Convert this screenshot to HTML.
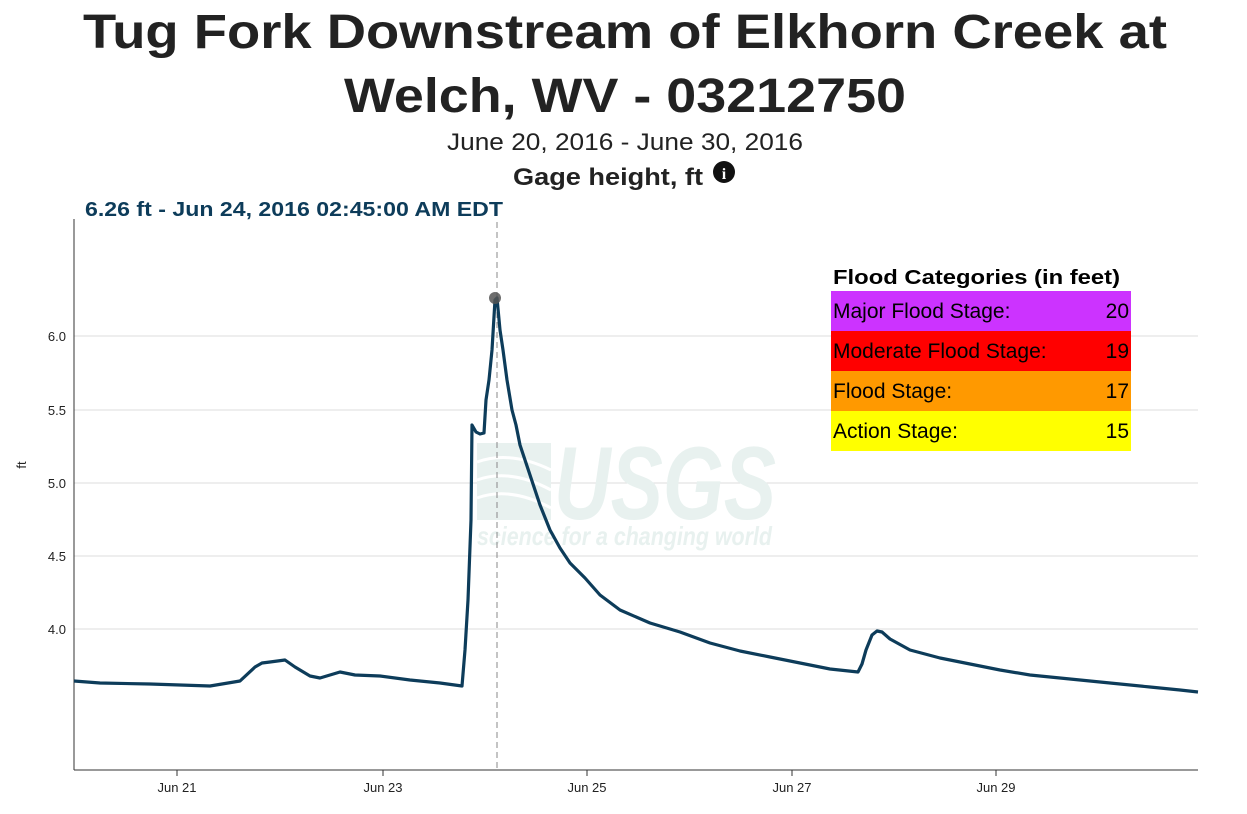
<!DOCTYPE html>
<html><head><meta charset="utf-8"><style>
body{margin:0;background:#fff;width:1247px;height:809px;overflow:hidden;font-family:"Liberation Sans",sans-serif;}
</style></head><body>
<svg width="1247" height="809" xmlns="http://www.w3.org/2000/svg" font-family="Liberation Sans, sans-serif">
<text x="625" y="48" text-anchor="middle" font-size="48" font-weight="bold" fill="#222" textLength="1084" lengthAdjust="spacingAndGlyphs">Tug Fork Downstream of Elkhorn Creek at</text>
<text x="625" y="112" text-anchor="middle" font-size="48" font-weight="bold" fill="#222" textLength="562" lengthAdjust="spacingAndGlyphs">Welch, WV - 03212750</text>
<text x="625" y="150" text-anchor="middle" font-size="24" fill="#222" textLength="356" lengthAdjust="spacingAndGlyphs">June 20, 2016 - June 30, 2016</text>
<text x="608" y="185" text-anchor="middle" font-size="24" font-weight="bold" fill="#222" textLength="190" lengthAdjust="spacingAndGlyphs">Gage height, ft</text>
<circle cx="724" cy="172" r="11" fill="#111"/>
<text x="724" y="179" text-anchor="middle" font-size="16" font-weight="bold" fill="#fff" font-family="Liberation Serif, serif">i</text>
<text x="85" y="216" font-size="20" font-weight="bold" fill="#0d3c5a" textLength="418" lengthAdjust="spacingAndGlyphs">6.26 ft - Jun 24, 2016 02:45:00 AM EDT</text>
<g stroke="#ddd" stroke-width="1">
<line x1="74" y1="336" x2="1198" y2="336"/><line x1="74" y1="410" x2="1198" y2="410"/>
<line x1="74" y1="483" x2="1198" y2="483"/><line x1="74" y1="556" x2="1198" y2="556"/>
<line x1="74" y1="629" x2="1198" y2="629"/>
</g>
<g fill="#e8f1ef">
<rect x="477" y="443" width="74" height="77"/>
<text x="554" y="519" font-size="104" font-weight="bold" font-style="italic" textLength="222" lengthAdjust="spacingAndGlyphs">USGS</text>
<text x="477" y="545" font-size="26" font-weight="bold" font-style="italic" textLength="295" lengthAdjust="spacingAndGlyphs">science for a changing world</text>
</g>
<g fill="none" stroke="#fff" stroke-width="3"><path d="M477 462 Q510 450 551 470"/><path d="M477 480 Q510 468 551 490"/><path d="M477 498 Q510 486 551 508"/></g>
<line x1="74" y1="219" x2="74" y2="770" stroke="#333"/>
<line x1="74" y1="770" x2="1198" y2="770" stroke="#333"/>
<g font-size="13" fill="#222" text-anchor="end">
<text x="66" y="341">6.0</text><text x="66" y="415">5.5</text><text x="66" y="488">5.0</text><text x="66" y="561">4.5</text><text x="66" y="634">4.0</text>
</g>
<text x="26" y="465" font-size="13" fill="#222" text-anchor="middle" transform="rotate(-90 26 465)">ft</text>
<g stroke="#333"><line x1="177" y1="770" x2="177" y2="776"/><line x1="383" y1="770" x2="383" y2="776"/><line x1="587" y1="770" x2="587" y2="776"/><line x1="792" y1="770" x2="792" y2="776"/><line x1="996" y1="770" x2="996" y2="776"/></g>
<g font-size="13" fill="#222" text-anchor="middle">
<text x="177" y="792">Jun 21</text><text x="383" y="792">Jun 23</text><text x="587" y="792">Jun 25</text><text x="792" y="792">Jun 27</text><text x="996" y="792">Jun 29</text>
</g>
<line x1="497" y1="222" x2="497" y2="770" stroke="#888" stroke-dasharray="6,4"/>
<polyline fill="none" stroke="#0d3c5a" stroke-width="3.2" stroke-linejoin="round" points="74,681 100,683 150,684 210,686 240,681 255,667 262,663 270,662 285,660 295,667 310,676 320,678 340,672 355,675 380,676 410,680 440,683 462,686 465,650 468,600 471,520 472,425 476,432 480,434 484,433 486,400 489,380 492,350 495,300 497,298 500,330 503,350 507,380 512,410 516,425 520,445 525,460 530,475 540,505 550,530 560,548 570,563 585,578 600,595 620,610 650,623 680,632 710,643 740,651 770,657 800,663 830,669 858,672 862,664 866,650 872,635 877,631 882,632 890,639 910,650 940,658 970,664 1000,670 1030,675 1070,679 1110,683 1150,687 1180,690 1198,692"/>
<circle cx="495" cy="298" r="6" fill="#555" opacity="0.85"/>
<text x="833" y="284" font-size="20" font-weight="bold" fill="#000" textLength="287" lengthAdjust="spacingAndGlyphs">Flood Categories (in feet)</text>
<rect x="831" y="291" width="300" height="40" fill="#cc33ff"/>
<rect x="831" y="331" width="300" height="40" fill="#ff0000"/>
<rect x="831" y="371" width="300" height="40" fill="#ff9900"/>
<rect x="831" y="411" width="300" height="40" fill="#ffff00"/>
<g font-size="21" fill="#000">
<text x="833" y="318">Major Flood Stage:</text><text x="1129" y="318" text-anchor="end">20</text>
<text x="833" y="358">Moderate Flood Stage:</text><text x="1129" y="358" text-anchor="end">19</text>
<text x="833" y="398">Flood Stage:</text><text x="1129" y="398" text-anchor="end">17</text>
<text x="833" y="438">Action Stage:</text><text x="1129" y="438" text-anchor="end">15</text>
</g>
</svg>
</body></html>
